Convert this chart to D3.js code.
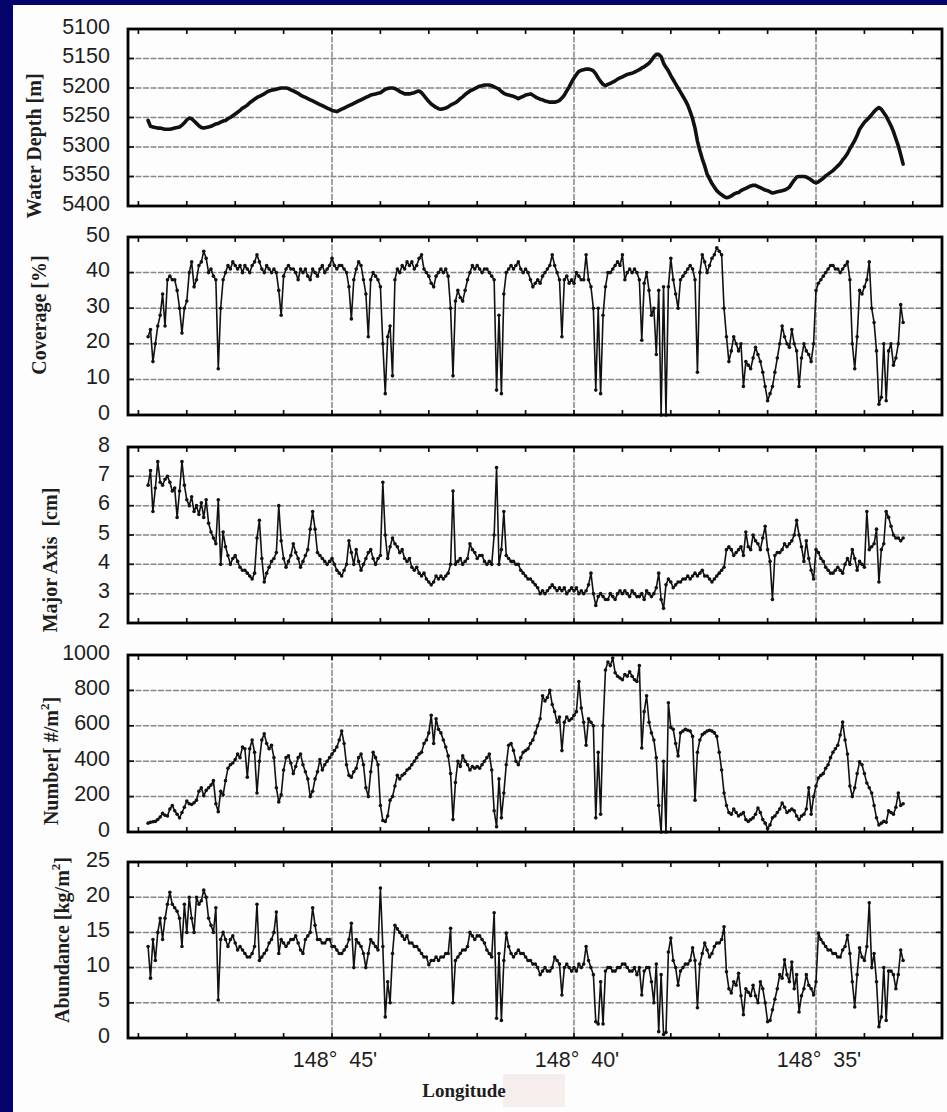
<!DOCTYPE html>
<html>
<head>
<meta charset="utf-8">
<script src="https://cdn.jsdelivr.net/npm/d3@7"></script>
<style>
  html, body { margin: 0; padding: 0; background: #ffffff; }
  svg { display: block; }
</style>
</head>
<body>
<svg id="chart" width="947" height="1112"></svg>
<script>
// Sample longitudes along the survey track, arc-minutes east of 148°
const lon = [
  48.8,48.75,48.7,48.65,48.6,48.55,48.5,48.45,48.4,48.35,48.3,48.25,48.2,48.15,48.1,48.05,48,47.95,47.9,47.85,
  47.8,47.75,47.7,47.65,47.6,47.55,47.5,47.45,47.4,47.35,47.3,47.25,47.2,47.15,47.1,47.05,47,46.95,46.9,46.85,
  46.8,46.75,46.7,46.65,46.6,46.55,46.5,46.45,46.4,46.35,46.3,46.25,46.2,46.15,46.1,46.05,46,45.95,45.9,45.85,
  45.8,45.75,45.7,45.65,45.6,45.55,45.5,45.45,45.4,45.35,45.3,45.25,45.2,45.15,45.1,45.05,45,44.95,44.9,44.85,
  44.8,44.75,44.7,44.65,44.6,44.55,44.5,44.45,44.4,44.35,44.3,44.25,44.2,44.15,44.1,44.05,44,43.95,43.9,43.85,
  43.8,43.75,43.7,43.65,43.6,43.55,43.5,43.45,43.4,43.35,43.3,43.25,43.2,43.15,43.1,43.05,43,42.95,42.9,42.85,
  42.8,42.75,42.7,42.65,42.6,42.55,42.5,42.45,42.4,42.35,42.3,42.25,42.2,42.15,42.1,42.05,42,41.95,41.9,41.85,
  41.8,41.75,41.7,41.65,41.6,41.55,41.5,41.45,41.4,41.35,41.3,41.25,41.2,41.15,41.1,41.05,41,40.95,40.9,40.85,
  40.8,40.75,40.7,40.65,40.6,40.55,40.5,40.45,40.4,40.35,40.3,40.25,40.2,40.15,40.1,40.05,40,39.95,39.9,39.85,
  39.8,39.75,39.7,39.65,39.6,39.55,39.5,39.45,39.4,39.35,39.3,39.25,39.2,39.15,39.1,39.05,39,38.95,38.9,38.85,
  38.8,38.75,38.7,38.65,38.6,38.55,38.5,38.45,38.4,38.35,38.3,38.25,38.2,38.15,38.1,38.05,38,37.95,37.9,37.85,
  37.8,37.75,37.7,37.65,37.6,37.55,37.5,37.45,37.4,37.35,37.3,37.25,37.2,37.15,37.1,37.05,37,36.95,36.9,36.85,
  36.8,36.75,36.7,36.65,36.6,36.55,36.5,36.45,36.4,36.35,36.3,36.25,36.2,36.15,36.1,36.05,36,35.95,35.9,35.85,
  35.8,35.75,35.7,35.65,35.6,35.55,35.5,35.45,35.4,35.35,35.3,35.25,35.2,35.15,35.1,35.05,35,34.95,34.9,34.85,
  34.8,34.75,34.7,34.65,34.6,34.55,34.5,34.45,34.4,34.35,34.3,34.25,34.2,34.15,34.1,34.05,34,33.95,33.9,33.85,
  33.8,33.75,33.7,33.65,33.6,33.55,33.5,33.45,33.4,33.35,33.3,33.25,33.2
];

// Water depth [m]
const depth = [
  5255,5265,5266,5267,5268,5268,5269,5270,5270,5270,5269,5268,5267,5266,5263,5259,5254,5251,5252,5256,
  5260,5264,5267,5268,5267,5266,5265,5263,5261,5260,5258,5256,5255,5252,5250,5247,5244,5241,5238,5234,
  5232,5229,5225,5222,5219,5216,5214,5212,5210,5207,5205,5204,5203,5202,5201,5200,5200,5200,5201,5203,
  5205,5207,5209,5212,5214,5216,5218,5220,5222,5224,5226,5228,5230,5232,5234,5236,5238,5239,5240,5238,
  5236,5234,5232,5230,5228,5226,5224,5222,5220,5218,5216,5214,5212,5211,5210,5209,5208,5205,5202,5201,
  5200,5200,5201,5203,5206,5208,5210,5210,5210,5209,5208,5206,5205,5208,5213,5218,5223,5227,5230,5233,
  5235,5236,5235,5234,5232,5229,5227,5225,5222,5218,5215,5211,5208,5205,5203,5201,5199,5197,5196,5195,
  5195,5195,5196,5198,5200,5202,5206,5209,5211,5212,5213,5214,5216,5218,5216,5214,5212,5211,5210,5212,
  5215,5217,5219,5220,5222,5223,5224,5224,5224,5223,5221,5217,5212,5205,5198,5190,5183,5177,5172,5170,
  5169,5168,5168,5169,5171,5176,5183,5189,5194,5196,5194,5192,5190,5188,5185,5183,5181,5179,5177,5176,
  5175,5173,5171,5169,5166,5164,5161,5158,5153,5147,5143,5143,5147,5158,5165,5171,5179,5186,5193,5200,
  5207,5214,5221,5229,5240,5252,5268,5290,5306,5320,5332,5346,5354,5362,5368,5374,5378,5381,5384,5386,
  5385,5383,5380,5378,5377,5374,5372,5370,5368,5366,5365,5365,5367,5369,5371,5373,5374,5376,5378,5377,
  5376,5375,5374,5373,5371,5368,5362,5356,5351,5350,5350,5350,5351,5353,5356,5359,5361,5359,5356,5353,
  5349,5346,5343,5340,5336,5332,5328,5322,5317,5311,5303,5296,5289,5280,5270,5264,5258,5254,5250,5245,
  5240,5236,5233,5236,5242,5248,5256,5264,5274,5286,5298,5313,5329
];

// Nodule coverage [%]
const coverage = [
  22,24,15,20,25,28,34,25,38,39,38,38,35,30,23,30,32,40,43,36,
  38,42,43,46,44,40,41,39,38,13,30,38,40,42,41,43,42,41,42,40,
  42,41,40,42,43,45,43,41,40,42,41,40,41,40,35,28,39,41,42,41,
  41,40,38,41,40,41,39,38,41,40,39,41,42,40,41,42,44,42,41,42,
  42,41,40,36,27,38,41,43,42,38,34,22,38,40,39,38,36,20,6,22,
  25,11,38,41,40,42,41,43,42,43,41,42,44,45,41,40,39,37,36,39,
  40,41,40,41,39,30,11,32,35,33,32,35,38,40,42,41,42,41,40,41,
  41,40,39,38,7,28,6,34,40,41,42,41,42,43,41,40,41,40,38,36,
  37,38,37,39,40,41,42,45,42,40,38,22,38,39,37,38,37,40,39,38,
  38,45,38,36,30,7,30,6,28,36,40,40,41,42,43,42,45,38,40,41,
  40,41,40,38,21,37,40,35,28,30,17,35,0,36,0,36,44,38,34,30,
  38,39,40,41,42,41,38,12,40,45,43,40,42,44,45,47,46,45,30,22,
  15,18,22,20,18,20,8,15,14,13,16,19,17,15,12,8,4,6,8,12,
  16,20,25,22,20,19,24,20,18,8,16,20,18,17,15,20,35,37,38,39,
  40,41,42,42,41,41,40,41,42,43,38,20,13,22,35,34,36,38,43,30,
  26,18,3,5,20,4,18,20,14,16,20,31,26
];

// Nodule major axis [cm]
const majorAxis = [
  6.7,7.2,5.8,6.6,7.5,6.8,6.7,6.9,7.0,6.8,6.5,6.6,5.6,6.5,7.5,6.7,6.2,6.0,6.3,5.8,
  6.0,5.7,6.1,5.6,6.2,5.4,5.1,4.9,4.7,6.2,4.0,5.1,4.6,4.3,4.0,4.2,4.3,4.1,3.9,3.8,
  3.8,3.7,3.6,3.5,3.7,4.9,5.5,4.2,3.4,3.7,3.9,4.1,4.2,4.4,6.0,4.8,4.2,3.9,4.1,4.3,
  4.7,4.4,4.2,3.9,4.1,4.3,4.5,5.2,5.8,5.2,4.4,4.3,4.2,4.1,4.0,4.1,4.2,4.0,3.8,3.7,
  3.6,3.8,4.0,4.8,4.4,4.0,4.5,4.1,3.8,4.0,4.2,4.4,4.5,4.2,4.0,4.2,4.3,6.8,5.0,4.2,
  4.6,4.9,4.7,4.6,4.4,4.5,4.2,4.1,4.2,3.9,3.8,3.9,3.7,3.6,3.7,3.5,3.4,3.3,3.4,3.6,
  3.5,3.6,3.5,3.6,3.7,4.0,6.5,4.0,4.1,4.2,4.0,4.1,4.2,4.7,4.5,4.4,4.2,4.3,4.3,4.1,
  4.0,4.1,4.0,5.0,7.3,4.0,4.5,5.8,4.3,4.2,4.1,4.1,4.0,4.0,3.8,3.7,3.6,3.5,3.5,3.4,
  3.3,3.2,3.0,3.1,3.0,3.1,3.2,3.3,3.2,3.1,3.2,3.1,3.2,3.0,3.1,3.2,3.1,3.2,3.0,3.1,
  3.0,3.1,3.3,3.7,3.0,2.6,2.9,3.0,2.9,2.8,2.8,3.0,2.9,2.8,3.0,3.1,3.0,3.1,3.0,2.9,
  3.1,3.0,2.9,2.9,3.0,2.8,3.1,3.0,2.9,3.0,3.2,3.7,2.8,2.5,3.3,3.5,3.4,3.2,3.3,3.4,
  3.4,3.5,3.5,3.6,3.5,3.6,3.7,3.6,3.7,3.8,3.6,3.6,3.5,3.4,3.5,3.6,3.7,3.8,3.9,4.5,
  4.6,4.5,4.3,4.4,4.5,4.6,4.3,5.1,4.6,4.5,5.0,4.8,4.7,4.5,4.9,5.3,4.5,4.1,2.8,4.3,
  4.4,4.4,4.5,4.7,4.6,4.7,4.8,5.0,5.5,5.0,4.6,4.1,4.8,4.2,3.8,3.5,4.5,4.4,4.2,4.1,
  3.9,3.8,3.7,3.7,3.8,3.9,3.8,3.7,4.0,4.2,4.0,4.5,4.2,3.8,4.1,4.0,3.9,5.8,4.5,4.6,
  4.7,5.2,3.4,4.5,4.7,5.8,5.6,5.3,5.0,4.9,4.9,4.8,4.9
];

// Nodule number density [#/m²]
const numberDensity = [
  50,55,58,60,70,85,105,95,90,130,150,120,100,80,110,140,175,160,155,165,
  180,230,250,205,235,250,265,290,160,115,230,210,290,360,380,390,410,440,420,480,
  470,310,470,520,450,220,400,520,555,500,470,490,420,250,170,210,350,420,430,390,
  330,370,420,440,380,340,300,200,230,300,340,410,350,380,400,420,440,460,480,520,
  570,500,380,320,310,340,360,420,440,380,250,200,340,450,420,380,150,65,60,90,
  180,200,260,320,300,320,330,350,360,380,400,420,440,450,500,520,560,660,500,640,
  580,560,520,480,430,330,70,280,400,370,430,400,380,350,370,360,370,360,380,400,
  420,440,350,120,30,300,80,220,380,490,500,460,400,380,420,450,460,470,500,520,
  560,600,640,770,740,760,800,720,680,620,650,460,620,650,630,640,660,680,850,700,
  620,490,640,620,600,80,450,100,600,915,960,940,983,900,880,870,860,890,880,905,
  880,860,850,940,475,680,770,620,560,520,420,150,0,400,0,730,590,580,500,430,
  560,570,580,575,570,540,180,450,520,550,560,570,575,570,560,540,450,350,220,150,
  110,100,130,110,90,100,110,70,60,70,80,100,136,110,70,50,20,40,80,90,
  110,130,164,140,110,120,130,120,90,70,90,100,130,250,100,200,260,305,320,330,
  360,380,420,450,470,490,548,621,520,440,260,200,250,330,396,380,330,277,250,220,
  150,80,40,50,60,55,120,110,100,140,220,150,160
];

// Nodule abundance [kg/m²]
const abundance = [
  13,8.5,14,11,15,17,14,17,19,20.7,19,18.5,18,17,13,19,15,20,17,15,
  20,19,19.5,21,20,17,16,15,18.5,5.4,14,15,14,13,14,14.5,13.5,12.5,13,12.5,
  12,11.5,11.5,12,13,19,11,11.5,12,12.5,13.5,14,15,17.9,12,14,13.5,13,13.5,14,
  14,14.5,13.5,12.5,12,14,14.5,15,18.5,16,14,14,13.5,13.5,14,14,13,13,12.5,12,
  12,12.5,13,14,16.3,10,14,13.5,13,12,10,12,14,13.5,13,12.5,21.3,13,3,8,
  5,12,16,15.5,15,14.5,14,14.5,13.5,13.5,13,13,12.5,12,11.5,11.5,10.4,11,11,11.5,
  11,11.5,11.5,12,12,15.6,5,11,11.5,12,12.5,12.5,13,15,14.5,14,14.5,14.5,14,13.5,
  12.5,12,11.5,17.8,2.8,12,2.5,11,14.9,13,12,11.5,12,12.5,12,12,11.5,11,11,10.5,
  10.5,10,9,9.5,10,9.5,9.5,10,11.5,11,10.5,6.1,10,10.5,10,9.5,10,9.5,10.5,10,
  10.5,13,11,10,9,2.3,2,8,2,9.5,10,10,9.5,9.5,10,10,10.5,10.5,10,9.5,
  9.5,10,9,10,6.1,9.5,10,10,8,5,10.5,0.9,9,0.5,0.8,12.2,14.2,11,10,7.5,
  9.5,10,10.5,10.5,11,12.8,11,4.3,10.5,12,13.5,12.5,11.5,12,13,13.5,13.5,14,15.8,9.4,
  7,6.4,8,7.5,9.2,6,3.3,7,6.5,6,7.5,6,5,8,7,5,2.3,2.5,4,5.5,
  7,9,8.5,11.1,9,8,10.8,7,9,3.7,6,7,9,7.5,7,6.1,8,14.9,14,13.5,
  13,12.5,12.5,12,12,11.5,11.5,12.5,13,14.6,12,8,4.4,9,12.8,11.5,11,13,19.2,10,
  12,8,1.6,3,10,2.5,9.5,9.5,9,7,9,12.5,11
];

// Axis ticks
const depthTicks = [5100, 5150, 5200, 5250, 5300, 5350, 5400];
const coverageTicks = [0, 10, 20, 30, 40, 50];
const majorAxisTicks = [2, 3, 4, 5, 6, 7, 8];
const numberTicks = [0, 200, 400, 600, 800, 1000];
const abundanceTicks = [0, 5, 10, 15, 20, 25];

const lonTicks = [49, 48, 47, 46, 45, 44, 43, 42, 41, 40, 39, 38, 37, 36, 35, 34, 33];
const lonLabelMinutes = [45, 40, 35];
const lonLabelText = ["148°  45'", "148°  40'", "148°  35'"];

// ---- layout ----
const W = 947, H = 1112;
const plotLeft = 128, plotRight = 942;
const lonLeft = 49.215, lonRight = 32.397;

const panels = [
  { values: depth, ticks: depthTicks, inverted: true, top: 29, bottom: 206,
    title: [["Water Depth [m]", 0]], tx: 34, ty: 146, lineW: 3.6, dot: 0 },
  { values: coverage, ticks: coverageTicks, inverted: false, top: 237, bottom: 415,
    title: [["Coverage [%]", 0]], tx: 39, ty: 315, lineW: 1.6, dot: 1.8 },
  { values: majorAxis, ticks: majorAxisTicks, inverted: false, top: 447, bottom: 623,
    title: [["Major Axis  [cm]", 0]], tx: 50, ty: 560, lineW: 1.6, dot: 1.8 },
  { values: numberDensity, ticks: numberTicks, inverted: false, top: 655, bottom: 832,
    title: [["Number[ #/m", 0], ["2", 1], ["]", 0]], tx: 51, ty: 761, lineW: 1.6, dot: 1.8 },
  { values: abundance, ticks: abundanceTicks, inverted: false, top: 862, bottom: 1038,
    title: [["Abundance [kg/m", 0], ["2", 1], ["]", 0]], tx: 62, ty: 940, lineW: 1.6, dot: 1.8 }
];

const svg = d3.select("#chart");

// page background with the navy strips along the left and top edges
svg.append("rect").attr("x", 0).attr("y", 0).attr("width", W).attr("height", H).attr("fill", "#fdfdfd");
svg.append("rect").attr("x", 0).attr("y", 0).attr("width", 13).attr("height", H).attr("fill", "#03036b");
svg.append("rect").attr("x", 0).attr("y", 0).attr("width", W).attr("height", 5).attr("fill", "#03036b");

const x = d3.scaleLinear().domain([lonLeft, lonRight]).range([plotLeft, plotRight]);

const gridColor = "#8c8383";
const sansFont = "'Liberation Sans', Arial, Helvetica, sans-serif";
const serifFont = "'Liberation Serif', 'Times New Roman', serif";

panels.forEach(p => {
  const lo = d3.min(p.ticks), hi = d3.max(p.ticks);
  const y = d3.scaleLinear()
    .domain(p.inverted ? [lo, hi] : [hi, lo])
    .range([p.top, p.bottom]);

  const g = svg.append("g");

  // horizontal grid lines at the interior tick values
  g.selectAll("line.hgrid")
    .data(p.ticks.filter(t => t !== lo && t !== hi))
    .join("line")
    .attr("x1", plotLeft).attr("x2", plotRight)
    .attr("y1", d => y(d)).attr("y2", d => y(d))
    .attr("stroke", gridColor).attr("stroke-width", 1.5)
    .attr("stroke-dasharray", "6,1.5");

  // vertical grid lines at labelled longitudes
  g.selectAll("line.vgrid")
    .data(lonLabelMinutes)
    .join("line")
    .attr("x1", d => x(d)).attr("x2", d => x(d))
    .attr("y1", p.top).attr("y2", p.bottom)
    .attr("stroke", gridColor).attr("stroke-width", 1.5)
    .attr("stroke-dasharray", "6,1.5");

  // inward ticks along top and bottom
  const tickLen = 5;
  g.selectAll("line.tt")
    .data(lonTicks)
    .join("line")
    .attr("x1", d => x(d)).attr("x2", d => x(d))
    .attr("y1", p.top).attr("y2", p.top + tickLen)
    .attr("stroke", "#111").attr("stroke-width", 1.7);
  g.selectAll("line.tb")
    .data(lonTicks)
    .join("line")
    .attr("x1", d => x(d)).attr("x2", d => x(d))
    .attr("y1", p.bottom).attr("y2", p.bottom - tickLen)
    .attr("stroke", "#111").attr("stroke-width", 1.7);

  // inward ticks along left and right
  g.selectAll("line.tl")
    .data(p.ticks)
    .join("line")
    .attr("x1", plotLeft).attr("x2", plotLeft + 6)
    .attr("y1", d => y(d)).attr("y2", d => y(d))
    .attr("stroke", "#111").attr("stroke-width", 1.7);
  g.selectAll("line.tr")
    .data(p.ticks)
    .join("line")
    .attr("x1", plotRight).attr("x2", plotRight - 6)
    .attr("y1", d => y(d)).attr("y2", d => y(d))
    .attr("stroke", "#111").attr("stroke-width", 1.7);

  // data series
  const pts = lon.map((m, i) => [m, p.values[i]]).filter(d => d[1] != null);
  const line = d3.line().x(d => x(d[0])).y(d => y(d[1]));
  g.append("path")
    .datum(pts)
    .attr("d", line)
    .attr("fill", "none")
    .attr("stroke", "#111")
    .attr("stroke-width", p.lineW)
    .attr("stroke-linejoin", "round")
    .attr("stroke-linecap", "round");
  if (p.dot > 0) {
    g.selectAll("circle.pt")
      .data(pts)
      .join("circle")
      .attr("cx", d => x(d[0]))
      .attr("cy", d => y(d[1]))
      .attr("r", p.dot)
      .attr("fill", "#111");
  }

  // frame
  g.append("rect")
    .attr("x", plotLeft).attr("y", p.top)
    .attr("width", plotRight - plotLeft).attr("height", p.bottom - p.top)
    .attr("fill", "none").attr("stroke", "#000").attr("stroke-width", 2.8);

  // y tick labels
  g.selectAll("text.yl")
    .data(p.ticks)
    .join("text")
    .attr("x", 110)
    .attr("y", d => y(d) + 4.5)
    .attr("text-anchor", "end")
    .attr("font-family", sansFont)
    .attr("font-size", 21.5)
    .attr("fill", "#1e1e1e")
    .text(d => d);

  // rotated axis title
  const t = g.append("text")
    .attr("transform", `translate(${p.tx},${p.ty}) rotate(-90)`)
    .attr("text-anchor", "middle")
    .attr("dominant-baseline", "central")
    .attr("font-family", serifFont)
    .attr("font-weight", "bold")
    .attr("font-size", 20)
    .attr("fill", "#1e1e1e")
    .style("white-space", "pre");
  let raised = false;
  p.title.forEach(([s, sup]) => {
    const span = t.append("tspan").text(s);
    if (sup && !raised) { span.attr("dy", -7).attr("font-size", 13); raised = true; }
    else if (!sup && raised) { span.attr("dy", 7); raised = false; }
  });
});

// longitude labels under the bottom panel
svg.selectAll("text.xl")
  .data(lonLabelMinutes)
  .join("text")
  .attr("x", d => x(d) + 3)
  .attr("y", 1067)
  .attr("text-anchor", "middle")
  .attr("font-family", sansFont)
  .attr("font-size", 21.5)
  .attr("fill", "#1e1e1e")
  .style("white-space", "pre")
  .text((d, i) => lonLabelText[i]);

// light patch beside the axis name
svg.append("rect")
  .attr("x", 503).attr("y", 1074).attr("width", 62).attr("height", 33)
  .attr("fill", "#f6eded");

svg.append("text")
  .attr("x", 464).attr("y", 1097)
  .attr("text-anchor", "middle")
  .attr("font-family", serifFont)
  .attr("font-weight", "bold")
  .attr("font-size", 19)
  .attr("fill", "#1e1e1e")
  .text("Longitude");
</script>
</body>
</html>
